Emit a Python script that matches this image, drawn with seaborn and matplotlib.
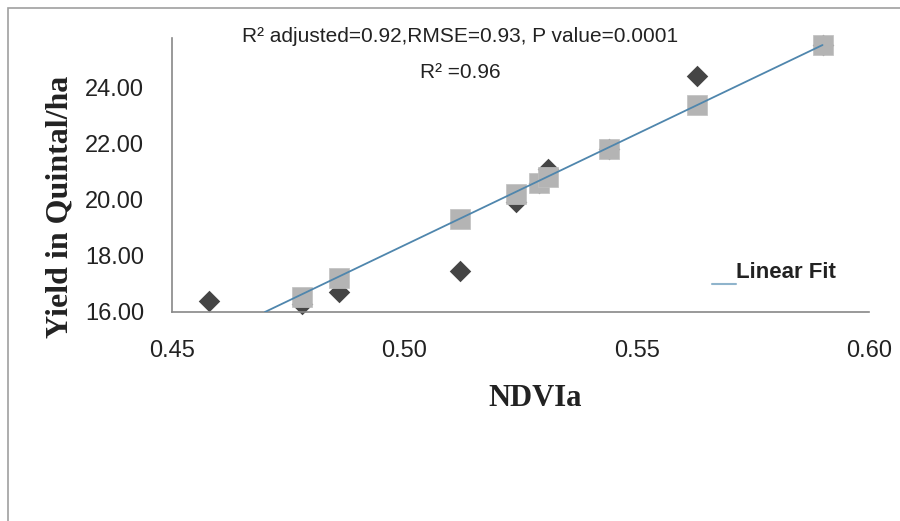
import matplotlib
matplotlib.use("Agg")
import matplotlib.pyplot as plt
import matplotlib.patches as mpatches
import seaborn as sns
import pandas as pd

# Observed yields (dark diamonds)
obs_ndvi = [0.458, 0.478, 0.486, 0.512, 0.524, 0.529, 0.531, 0.544, 0.563, 0.590]
obs_yield = [16.40, 16.30, 16.70, 17.45, 19.90, 20.60, 21.10, 21.80, 24.40, 25.50]

# Fitted yields (light-gray squares)
fit_ndvi = [0.478, 0.486, 0.512, 0.524, 0.529, 0.531, 0.544, 0.563, 0.590]
fit_yield = [16.55, 17.20, 19.30, 20.20, 20.60, 20.80, 21.80, 23.35, 25.50]

# Linear fit line end points
line_ndvi = [0.470, 0.590]
line_yield = [16.00, 25.50]

x_ticks = [0.45, 0.50, 0.55, 0.60]
x_labels = ["0.45", "0.50", "0.55", "0.60"]
y_ticks = [16, 18, 20, 22, 24]
y_labels = ["16.00", "18.00", "20.00", "22.00", "24.00"]

sns.set_style("white")
plt.rcParams['font.family'] = ['Liberation Sans', 'DejaVu Sans']

W, H = 900, 521
fig = plt.figure(figsize=(9, 5.21), dpi=100)
ax = fig.add_axes([172 / W, (H - 312) / H, 697 / W, 274 / H])

df_obs = pd.DataFrame({"x": obs_ndvi, "y": obs_yield})
df_fit = pd.DataFrame({"x": fit_ndvi, "y": fit_yield})
df_line = pd.DataFrame({"x": line_ndvi, "y": line_yield})

sns.scatterplot(data=df_obs, x="x", y="y", ax=ax, marker="D", s=120,
                color="#454545", edgecolor="#454545", linewidth=0, zorder=2, clip_on=False)
sns.scatterplot(data=df_fit, x="x", y="y", ax=ax, marker="s", s=210,
                color="#b4b4b4", edgecolor="#c0c0c0", linewidth=0.5, zorder=3, clip_on=False)
sns.lineplot(data=df_line, x="x", y="y", ax=ax, color="#4f86ad", linewidth=1.3, zorder=4)

ax.set_xlim(0.45, 0.60)
ax.set_ylim(16, 25.75)
ax.set_xticks(x_ticks)
ax.set_xticklabels(x_labels)
ax.set_yticks(y_ticks)
ax.set_yticklabels(y_labels)
ax.tick_params(axis="both", labelsize=17, length=7, width=1, direction="out")
ax.tick_params(axis="x", colors="#888888", labelcolor="#222222", pad=13)
ax.tick_params(axis="y", colors="#888888", labelcolor="#222222", pad=13)

for s in ["top", "right"]:
    ax.spines[s].set_visible(False)
for s in ["left", "bottom"]:
    ax.spines[s].set_color("#888888")
    ax.spines[s].set_linewidth(1.2)

ax.set_xlabel("")
ax.set_ylabel("")
serif = ["Liberation Serif", "DejaVu Serif"]
fig.text(535 / W, 1 - 398 / H, "NDVIa", family=serif, fontweight="bold",
         fontsize=22, color="#222222", ha="center", va="center")
fig.text(60 / W, 1 - 207 / H, "Yield in Quintal/ha", family=serif, fontweight="bold",
         fontsize=23, color="#222222", ha="center", va="center", rotation=90)

narrow = ["Liberation Sans Narrow", "Liberation Sans", "DejaVu Sans"]
fig.text(460 / W, 1 - 37 / H, "R² adjusted=0.92,RMSE=0.93, P value=0.0001", family=narrow,
         fontsize=15, ha="center", va="center", color="#222222")
fig.text(460 / W, 1 - 72 / H, "R² =0.96", family=narrow,
         fontsize=15, ha="center", va="center", color="#222222")

# Legend
fig.add_artist(plt.Line2D([712 / W, 736 / W], [1 - 284 / H, 1 - 284 / H],
                          color="#8fb4cc", linewidth=1.5))
fig.text(736 / W, 1 - 272 / H, "Linear Fit", family=narrow, fontweight="bold",
         fontsize=16, ha="left", va="center", color="#222222")

# Outer frame
fig.add_artist(mpatches.Rectangle((8 / W, -0.1), 1.2, (1 - 8 / H) + 0.1,
                                  transform=fig.transFigure, fill=False,
                                  edgecolor="#a0a0a0", linewidth=1.2))

fig.savefig("out.png", dpi=100, facecolor="white")
